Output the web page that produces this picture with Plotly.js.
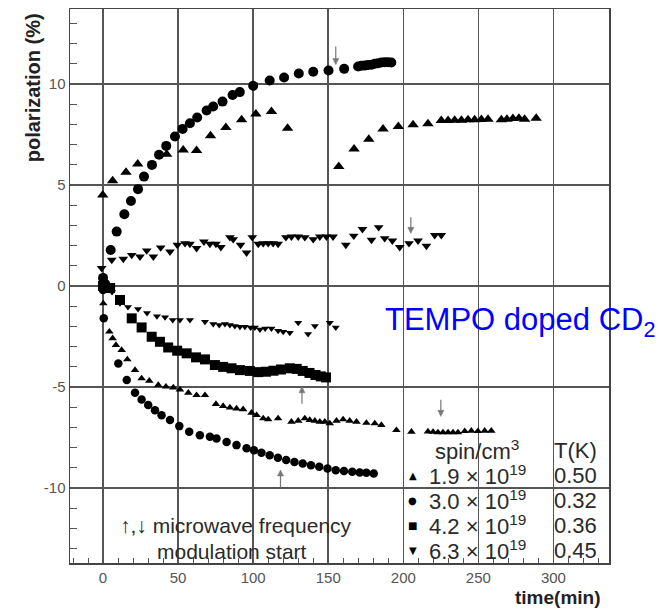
<!DOCTYPE html>
<html><head><meta charset="utf-8">
<script src="https://cdn.plot.ly/plotly-3.0.1.min.js"></script>
<style>html,body{margin:0;padding:0;background:#fff}#chart{width:666px;height:609px}</style>
</head><body><div id="chart"></div>
<script>
// ---- data (time in min, polarization in %) ----
// 1.9e19 spin/cm3, 0.50 K  (triangle-up)
const triPosT = [-0.2,6.4,15.3,23.1,42.4,53.4,62.3,71.6,81.8,92.3,101.8,112.2,122.9,157,167.2,177,186.5,196.7,206.5,216.4,225.3,229.8,234.2,238.7,243.1,247.5,252,256.4,265.3,269,273,277,280.8,288.5];
const triPosP = [4.5,5.21,5.63,6.04,6.52,6.73,6.7,7.43,7.84,8.22,8.51,8.63,7.8,5.91,6.77,7.26,7.76,7.89,7.97,8.02,8.18,8.18,8.2,8.2,8.22,8.22,8.24,8.25,8.22,8.25,8.28,8.3,8.25,8.3];
const triNegT = [0.2,4.2,6.4,8.6,12.4,16.2,21.3,25.7,30.8,36.8,41.9,46.8,51.2,56.8,62.3,67.9,75.2,80,84.5,88.9,93.3,98.9,102.3,106.7,110,116.6,125.5,130,134.4,137.7,141.1,144.4,147.7,151,155.5,159.9,164.3,168.8,175.4,181,185.4,195.4,205.4,216.4,219.8,223.1,226.4,229.8,233.1,236.4,240.9,245.3,249.7,254.2,258.6];
const triNegP = [-0.86,-2.26,-2.59,-2.92,-3.17,-3.63,-4.16,-4.57,-4.69,-4.9,-4.98,-5.02,-5.12,-5.28,-5.4,-5.4,-5.84,-5.94,-6.01,-6.06,-6.1,-6.27,-6.39,-6.55,-6.6,-6.55,-6.72,-6.67,-6.55,-6.63,-6.67,-6.72,-6.72,-6.8,-6.67,-6.6,-6.67,-6.72,-6.77,-6.8,-6.88,-7.13,-7.21,-7.2,-7.22,-7.24,-7.24,-7.24,-7.24,-7.24,-7.18,-7.16,-7.18,-7.16,-7.16];
// 3.0e19 spin/cm3, 0.32 K  (circle)
const cirPosT = [0,1.5,5.1,9.1,14.2,18.6,23.3,27.3,32.6,37.3,42.1,47.9,53,57.9,62.7,69,73.4,79.6,86.3,91.1,100,111,120.6,130.4,140,150.2,160.6,169.9,172,174.3,176.5,178.8,181,183.2,185.4,187.6,189.8,192];
const cirPosP = [0.4,0.1,1.78,2.69,3.55,4.2,4.79,5.41,5.99,6.49,6.93,7.39,7.77,8.05,8.33,8.68,8.88,9.12,9.45,9.59,9.9,10.16,10.31,10.51,10.6,10.66,10.74,10.86,10.89,10.9,10.93,10.94,10.99,11.02,11.05,11.07,11.07,11.05];
const cirNegT = [0,0.5,10.2,15.8,21.3,25.7,30.1,34.6,39,44.6,50.8,57.4,64.5,71.2,75.6,82.3,88.9,95.6,100.5,105.5,111,116.5,122,127.5,133,138.5,144,149.5,155,160.5,166,171,175.4,180.3];
const cirNegP = [-0.2,-1.6,-3.83,-4.65,-5.28,-5.61,-5.89,-6.14,-6.39,-6.63,-6.93,-7.21,-7.38,-7.46,-7.54,-7.71,-7.87,-8.03,-8.12,-8.25,-8.37,-8.5,-8.61,-8.7,-8.78,-8.86,-8.94,-9.03,-9.11,-9.15,-9.19,-9.22,-9.24,-9.27];
// 4.2e19 spin/cm3, 0.36 K  (square)
const sqT = [0,4.7,11.3,19.1,25.7,32.4,37.9,43.4,49.4,55.7,61.9,67.9,74.5,80,85.6,91.2,97.8,103.4,108.5,113.5,118.5,124.4,129,133,137.5,141.5,145,148.5];
const sqP = [0,-0.1,-0.69,-1.6,-2.05,-2.51,-2.76,-3.04,-3.2,-3.33,-3.53,-3.63,-3.91,-4,-4.07,-4.16,-4.2,-4.26,-4.24,-4.19,-4.13,-4.07,-4.1,-4.2,-4.3,-4.4,-4.47,-4.52];
// 6.3e19 spin/cm3, 0.45 K  (triangle-down)
const tdPosT = [-0.9,5.8,13.5,19.1,24.6,29.1,33.5,38.4,44.6,49.5,54.6,57.9,62.3,67.2,71.2,75.2,78.5,84.5,86.7,91.6,95.6,99.4,103.4,106.7,110,113.3,116.6,121.8,125.5,130,134.4,140,144.4,148.8,153.2,161.7,167,172.8,178.8,183.6,187.6,192.7,197.6,203.8,209.8,215.4,220.9,225.3];
const tdPosP = [0.88,1.29,1.34,1.53,1.45,1.75,1.45,1.9,1.7,2.03,2.11,2.08,1.87,2.19,2.08,2.08,1.92,2.41,2.31,2.03,1.65,2.41,2.08,2.11,2.11,2.11,2.08,2.41,2.44,2.44,2.41,2.31,2.44,2.44,2.44,2.03,2.48,2.81,2.28,2.9,2.36,2.24,1.92,2.11,2.24,1.98,2.51,2.51];
const tdNegT = [2,6,11.3,16.6,23.3,29.3,35.9,41.3,46.4,51.2,57.9,67.9,73.4,77.4,81.2,84.5,87.8,91.2,94.5,98.3,101.1,104.5,108,112.2,116.6,120,124.4,130,136.6,141.1,151,155];
const tdNegP = [0.1,-0.3,-0.85,-1.04,-1.14,-1.34,-1.49,-1.55,-1.68,-1.68,-1.68,-1.77,-1.88,-1.93,-1.88,-1.93,-1.98,-2.01,-2.01,-2.05,-2.05,-2.15,-2.1,-2.1,-2.21,-2.26,-2.31,-1.82,-2.38,-1.98,-1.82,-2.05];

const xTicks = [0,50,100,150,200,250,300];
const yTickVals = [-10,-5,0,5,10];
const yTickText = ['-10','-5','0','5','10'];
const legendSpin = ['1.9','3.0','4.2','6.3'];
const legendT = ['0.50','0.32','0.36','0.45'];
const legendSym = ['\u25B2','\u25CF','\u25A0','\u25BC'];

function tr(x, y, symbol, size) {
  return {x: x, y: y, type: 'scatter', mode: 'markers', cliponaxis: false,
    marker: {symbol: symbol, size: size, color: '#000'}, showlegend: false, hoverinfo: 'skip'};
}
const traces = [
  tr(triPosT, triPosP, 'triangle-up', 10),
  tr(triNegT, triNegP, 'triangle-up', 7.5),
  tr(cirPosT, cirPosP, 'circle', 10),
  tr(cirNegT, cirNegP, 'circle', 8.5),
  tr(sqT, sqP, 'square', 10),
  tr(tdPosT, tdPosP, 'triangle-down', 8.5),
  tr(tdNegT, tdNegP, 'triangle-down', 7)
];

const txtFont = {family: 'Liberation Sans, Arial, sans-serif', size: 22, color: '#2a2a2a'};
const noteFont = {family: 'Liberation Sans, Arial, sans-serif', size: 21, color: '#2a2a2a'};
const ann = [];
const shapes = [];
// modulation-start arrows drawn as shapes (shaft + small head)
function arrow(x, yHead, yTail) {
  const dir = yHead > yTail ? 1 : -1;       // +1 pointing up
  const hl = 0.3, hw = 2.0;                 // head length (%), half width (min)
  shapes.push({type: 'line', xref: 'x', yref: 'y', x0: x, x1: x, y0: yTail, y1: yHead - dir * hl * 0.5,
    line: {color: '#777', width: 1.2}});
  const yb = yHead - dir * hl;
  shapes.push({type: 'path', xref: 'x', yref: 'y',
    path: 'M ' + (x - hw) + ' ' + yb + ' L ' + x + ' ' + yHead + ' L ' + (x + hw) + ' ' + yb + ' Z',
    fillcolor: '#777', line: {color: '#777', width: 0.5}});
}
arrow(155, 10.95, 11.85);
arrow(205, 2.6, 3.4);
arrow(225, -6.45, -5.62);
arrow(132.5, -4.98, -5.82);
arrow(118.2, -9.1, -9.95);

ann.push({x: 88.5, y: -11.85, xref: 'x', yref: 'y', text: '\u2191,\u2193 microwave frequency', showarrow: false, xanchor: 'center', yanchor: 'middle', font: noteFont});
ann.push({x: 85.8, y: -13.15, xref: 'x', yref: 'y', text: 'modulation start', showarrow: false, xanchor: 'center', yanchor: 'middle', font: noteFont});
ann.push({x: 186.3, y: -1.78, xref: 'x', yref: 'y', text: 'TEMPO doped CD<sub>2</sub>', showarrow: false, xanchor: 'left', yanchor: 'middle',
  font: {family: 'Liberation Sans, Arial, sans-serif', size: 31, color: '#0000ff'}});
// legend table
ann.push({x: 219.6, y: -8.12, xref: 'x', yref: 'y', text: 'spin/cm<sup>3</sup>', showarrow: false, xanchor: 'left', yanchor: 'middle', font: txtFont});
ann.push({x: 298.7, y: -8.12, xref: 'x', yref: 'y', text: 'T(K)', showarrow: false, xanchor: 'left', yanchor: 'middle', font: txtFont});
const rowsY = [-9.36, -10.59, -11.83, -13.07];
for (let i = 0; i < 4; i++) {
  ann.push({x: 206.3, y: rowsY[i], xref: 'x', yref: 'y', text: legendSym[i], showarrow: false, xanchor: 'center', yanchor: 'middle',
    font: {family: 'DejaVu Sans, sans-serif', size: 10, color: '#000'}});
  ann.push({x: 215.5, y: rowsY[i], xref: 'x', yref: 'y', text: legendSpin[i] + ' \u00d7 10<sup>19</sup>', showarrow: false, xanchor: 'left', yanchor: 'middle', font: txtFont});
  ann.push({x: 298.7, y: rowsY[i], xref: 'x', yref: 'y', text: legendT[i], showarrow: false, xanchor: 'left', yanchor: 'middle', font: txtFont});
}
// axis titles
ann.push({x: -0.0686, y: 0.857, xref: 'paper', yref: 'paper', text: '<b>polarization (%)</b>', textangle: -90, showarrow: false,
  xanchor: 'center', yanchor: 'middle', font: {family: 'Liberation Sans, Arial, sans-serif', size: 20, color: '#222'}});
ann.push({x: 0.905, y: -0.062, xref: 'paper', yref: 'paper', text: '<b>time(min)</b>', showarrow: false,
  xanchor: 'center', yanchor: 'middle', font: {family: 'Liberation Sans, Arial, sans-serif', size: 19, color: '#222'}});

const axisCommon = {showgrid: true, gridcolor: '#555', gridwidth: 1.5, zeroline: false,
  showline: true, mirror: true, linecolor: '#444', linewidth: 1.5,
  ticks: 'inside', ticklen: 6, tickcolor: '#555', tickwidth: 1,
  tickfont: {family: 'Liberation Sans, Arial, sans-serif', size: 15, color: '#555'}};

const layout = {
  width: 666, height: 609,
  margin: {l: 70, r: 57, t: 9, b: 46},
  paper_bgcolor: '#fff', plot_bgcolor: '#fff',
  showlegend: false,
  xaxis: Object.assign({}, axisCommon, {range: [-22, 337], tickmode: 'array', tickvals: xTicks,
    minor: {dtick: 10, tick0: 0, ticks: 'inside', ticklen: 5, tickcolor: '#555', showgrid: false}}),
  yaxis: Object.assign({}, axisCommon, {range: [-13.7, 13.7], tickmode: 'array', tickvals: yTickVals, ticktext: yTickText,
    minor: {dtick: 1, tick0: 0, ticks: 'inside', ticklen: 7, tickcolor: '#555', showgrid: false}}),
  annotations: ann,
  shapes: shapes
};
Plotly.newPlot('chart', traces, layout, {displayModeBar: false, staticPlot: true});
</script></body></html>
